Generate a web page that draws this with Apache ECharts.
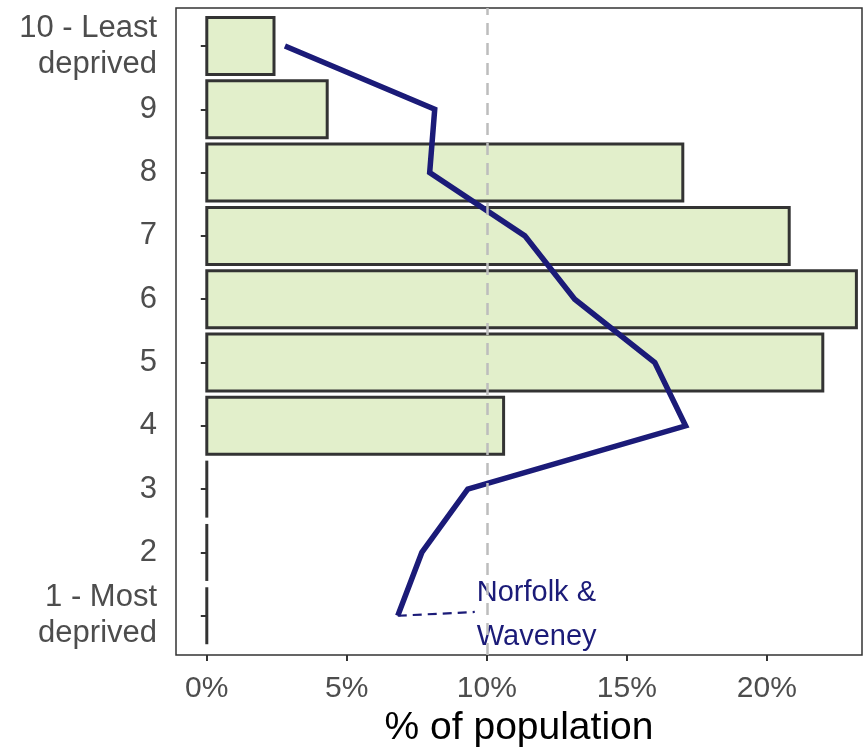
<!DOCTYPE html>
<html>
<head>
<meta charset="utf-8">
<script src="https://cdn.jsdelivr.net/npm/echarts@6/dist/echarts.min.js"></script>
<style>html,body{margin:0;padding:0;background:#fff}#c{width:866px;height:748px}</style>
</head>
<body>
<div id="c"></div>
<script>
const deciles = [1, 2, 3, 4, 5, 6, 7, 8, 9, 10];
const decileLabels = ['1 - Most\ndeprived', '2', '3', '4', '5', '6', '7', '8', '9', '10 - Least\ndeprived'];
const areaPct = [0, 0, 0, 10.6, 22.0, 23.2, 20.8, 17.0, 4.3, 2.4];
const regionPct = [6.82, 7.68, 9.32, 17.1, 16.0, 13.14, 11.36, 7.96, 8.14, 2.79];
const xTicks = [0, 5, 10, 15, 20];
const refLine = 10;
const regionName = 'Norfolk &\nWaveney';
const labelAnchor = [9.57, 1.06];

const font = 'Liberation Sans, Arial, sans-serif';
const chart = echarts.init(document.getElementById('c'));

const barData = deciles.map((d, i) => [areaPct[i], d]);
const lineData = deciles.map((d, i) => [regionPct[i], d]).reverse();

chart.setOption({
  animation: false,
  grid: { left: 176, top: 8, right: 4, bottom: 93, outerBoundsMode: 'none', containLabel: false, show: true, borderColor: '#333', borderWidth: 1.5, backgroundColor: '#fff' },
  xAxis: {
    type: 'value', min: -1.1, max: 23.4,
    splitLine: { show: false },
    axisLine: { show: false },
    axisTick: { show: true, customValues: xTicks, length: 6, lineStyle: { color: '#333', width: 2 } },
    axisLabel: { customValues: xTicks, formatter: v => v + '%', fontSize: 30, color: '#4d4d4d', fontFamily: font, margin: 19 },
    name: '% of population', nameLocation: 'middle', nameGap: 50,
    nameTextStyle: { fontSize: 39, color: '#000', fontFamily: font }
  },
  yAxis: {
    type: 'value', min: 0.38, max: 10.6,
    splitLine: { show: false },
    axisLine: { show: false },
    axisTick: { show: true, customValues: deciles, length: 6, lineStyle: { color: '#333', width: 2 } },
    axisLabel: { customValues: deciles, formatter: v => decileLabels[Math.round(v) - 1], fontSize: 31, color: '#4d4d4d', fontFamily: font, margin: 19, lineHeight: 36, align: 'right', padding: [8, 0, 0, 0] }
  },
  series: [
    {
      type: 'line', data: [], z: 1, silent: true,
      markLine: {
        symbol: 'none', silent: true, label: { show: false },
        lineStyle: { color: '#bdbdbd', type: [12, 8], width: 2.5 },
        data: [{ xAxis: refLine }]
      }
    },
    {
      type: 'custom', z: 2, data: barData,
      renderItem: function (params, api) {
        const x = api.value(0), y = api.value(1);
        const p0 = api.coord([0, y]);
        const p1 = api.coord([x, y]);
        const h = api.size([0, 0.9])[1];
        if (x === 0) {
          return { type: 'line', shape: { x1: p0[0], y1: p0[1] - h / 2, x2: p0[0], y2: p0[1] + h / 2 }, style: { stroke: '#333', lineWidth: 3 } };
        }
        return { type: 'rect', shape: { x: p0[0], y: p0[1] - h / 2, width: p1[0] - p0[0], height: h }, style: { fill: '#e2efcb', stroke: '#333', lineWidth: 3 } };
      }
    },
    {
      type: 'line', z: 3, data: lineData, showSymbol: false, symbol: 'none',
      lineStyle: { color: '#1b1b78', width: 5.5, join: 'miter' }
    },
    {
      type: 'line', z: 3, showSymbol: false, symbol: 'none',
      lineStyle: { color: '#1b1b78', width: 2.2, type: [9, 6] },
      data: [[regionPct[0], 1], labelAnchor],
      endLabel: { show: true, formatter: regionName, distance: 2, align: 'left', verticalAlign: 'middle', color: '#1b1b78', fontSize: 29, fontFamily: font, lineHeight: 44, offset: [0, 3] }
    }
  ]
});
</script>
</body>
</html>
